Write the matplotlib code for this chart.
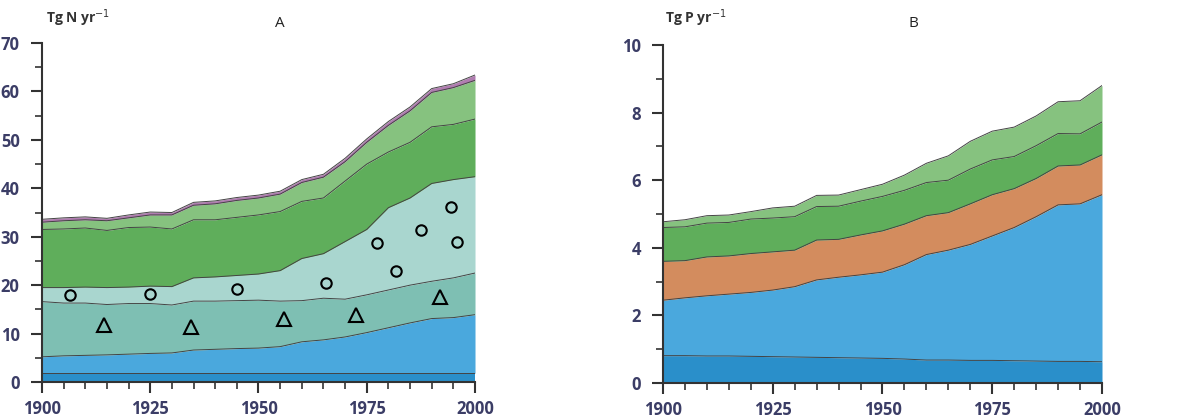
import numpy as np
import matplotlib.pyplot as plt
from matplotlib.ticker import MultipleLocator

plt.rcParams["font.family"] = ["Open Sans", "DejaVu Sans"]

years = [1900, 1905, 1910, 1915, 1920, 1925, 1930, 1935, 1940, 1945, 1950,
         1955, 1960, 1965, 1970, 1975, 1980, 1985, 1990, 1995, 2000]

# panel A, cumulative tops of each band (Tg N / yr)
n_top1 = [1.8] * 21
n_top2 = [5.2, 5.4, 5.5, 5.6, 5.75, 5.9, 6.0, 6.6, 6.75, 6.9, 7.0,
          7.3, 8.3, 8.7, 9.3, 10.2, 11.2, 12.2, 13.1, 13.3, 13.9]
n_top3 = [16.6, 16.3, 16.3, 16.0, 16.2, 16.2, 15.9, 16.7, 16.7, 16.8, 16.9,
          16.7, 16.8, 17.3, 17.1, 18.0, 19.0, 20.0, 20.8, 21.5, 22.5]
n_top4 = [19.5, 19.5, 19.6, 19.5, 19.6, 19.8, 19.7, 21.5, 21.7, 22.0, 22.3,
          23.0, 25.5, 26.5, 29.0, 31.5, 36.0, 38.0, 41.0, 41.8, 42.4]
n_top5 = [31.5, 31.6, 31.8, 31.3, 31.9, 32.0, 31.6, 33.5, 33.5, 34.0, 34.5,
          35.2, 37.3, 38.0, 41.5, 45.0, 47.5, 49.5, 52.7, 53.2, 54.3]
n_top6 = [33.0, 33.3, 33.5, 33.3, 33.9, 34.5, 34.5, 36.5, 36.8, 37.5, 38.0,
          38.8, 41.2, 42.3, 45.5, 49.5, 53.0, 56.0, 59.8, 60.8, 62.3]
n_top7 = [33.6, 33.9, 34.1, 33.8, 34.5, 35.1, 35.0, 37.1, 37.4, 38.1, 38.6,
          39.4, 41.8, 42.9, 46.2, 50.2, 53.8, 56.8, 60.6, 61.6, 63.4]

circ_x = [1906.5, 1925, 1945, 1965.5, 1977.4, 1981.7, 1987.6, 1994.4, 1995.8]
circ_y = [18.0, 18.2, 19.3, 20.5, 28.7, 22.9, 31.3, 36.1, 28.9]
tri_x = [1914.4, 1934.4, 1955.9, 1972.6, 1992.0]
tri_y = [11.7, 11.4, 13.1, 13.8, 17.5]

# panel B, cumulative tops (Tg P / yr)
p_top1 = [0.81, 0.81, 0.80, 0.80, 0.79, 0.78, 0.77, 0.76, 0.75, 0.74, 0.73,
          0.71, 0.68, 0.68, 0.67, 0.67, 0.66, 0.65, 0.64, 0.64, 0.63]
p_top2 = [2.45, 2.52, 2.58, 2.63, 2.68, 2.75, 2.85, 3.05, 3.13, 3.20, 3.28,
          3.50, 3.80, 3.93, 4.10, 4.35, 4.60, 4.92, 5.27, 5.30, 5.57]
p_top3 = [3.60, 3.62, 3.73, 3.76, 3.83, 3.88, 3.93, 4.23, 4.25, 4.38, 4.50,
          4.70, 4.95, 5.04, 5.30, 5.57, 5.75, 6.05, 6.42, 6.45, 6.75]
p_top4 = [4.60, 4.62, 4.73, 4.75, 4.85, 4.88, 4.92, 5.22, 5.23, 5.38, 5.52,
          5.70, 5.93, 6.00, 6.33, 6.60, 6.70, 7.02, 7.38, 7.37, 7.72]
p_top5 = [4.77, 4.83, 4.95, 4.97, 5.07, 5.18, 5.23, 5.55, 5.56, 5.72, 5.88,
          6.15, 6.50, 6.72, 7.15, 7.45, 7.57, 7.90, 8.32, 8.35, 8.80]

dblue = "#2a8fca"
blue = "#4aa8dd"
teal = "#7ebfb3"
lteal = "#a9d6cf"
green = "#5fae5b"
lgreen = "#86c27f"
pink = "#b07cb0"
orange = "#d38c5e"
tick_col = "#3b3d66"
edge = "#444444"

fig = plt.figure(figsize=(11.92, 4.2), dpi=100)
axA = fig.add_axes([0.0352, 0.0905, 0.3633, 0.807])
axB = fig.add_axes([0.5562, 0.088, 0.3683, 0.805])


def stack(ax, tops, colors):
    lower = np.zeros(len(years))
    for t, c in zip(tops, colors):
        t = np.array(t)
        ax.fill_between(years, lower, t, color=c, lw=0)
        ax.plot(years, t, color=edge, lw=0.7)
        lower = t


stack(axA, [n_top1, n_top2, n_top3, n_top4, n_top5, n_top6, n_top7],
      [dblue, blue, teal, lteal, green, lgreen, pink])
axA.plot(circ_x, circ_y, "o", ms=7.5, mfc="none", mec="black", mew=1.5)
axA.plot(tri_x, tri_y, "^", ms=10, mfc="none", mec="black", mew=1.5)

stack(axB, [p_top1, p_top2, p_top3, p_top4, p_top5],
      [dblue, blue, orange, green, lgreen])

for ax, ymax, ymaj, ymin in [(axA, 70, 10, 5), (axB, 10, 2, 1)]:
    ax.set_xlim(1900, 2000)
    ax.set_ylim(0, ymax)
    ax.xaxis.set_major_locator(MultipleLocator(25))
    ax.xaxis.set_minor_locator(MultipleLocator(5))
    ax.yaxis.set_major_locator(MultipleLocator(ymaj))
    ax.yaxis.set_minor_locator(MultipleLocator(ymin))
    for s in ["top", "right"]:
        ax.spines[s].set_visible(False)
    for s in ["left", "bottom"]:
        ax.spines[s].set_color("#333333")
        ax.spines[s].set_linewidth(1.5)
    ax.tick_params(which="major", length=8, width=1.5, color="#333333",
                   labelsize=12, labelcolor=tick_col)
    ax.tick_params(which="minor", length=5, width=1.2, color="#333333")
    ax.tick_params(axis="y", which="major", pad=8)
    ax.tick_params(axis="x", which="major", pad=5)
    for lab in ax.get_xticklabels() + ax.get_yticklabels():
        lab.set_fontweight("bold")

fig.text(0.039, 0.945, r"Tg N yr$^{-1}$", fontsize=10, color="#333333",
         fontweight="bold")
fig.text(0.235, 0.935, "A", fontsize=11, color="#222222", ha="center")
fig.text(0.558, 0.945, r"Tg P yr$^{-1}$", fontsize=10, color="#333333",
         fontweight="bold")
fig.text(0.766, 0.935, "B", fontsize=11, color="#222222", ha="center")

fig.savefig("out.png", dpi=100)
